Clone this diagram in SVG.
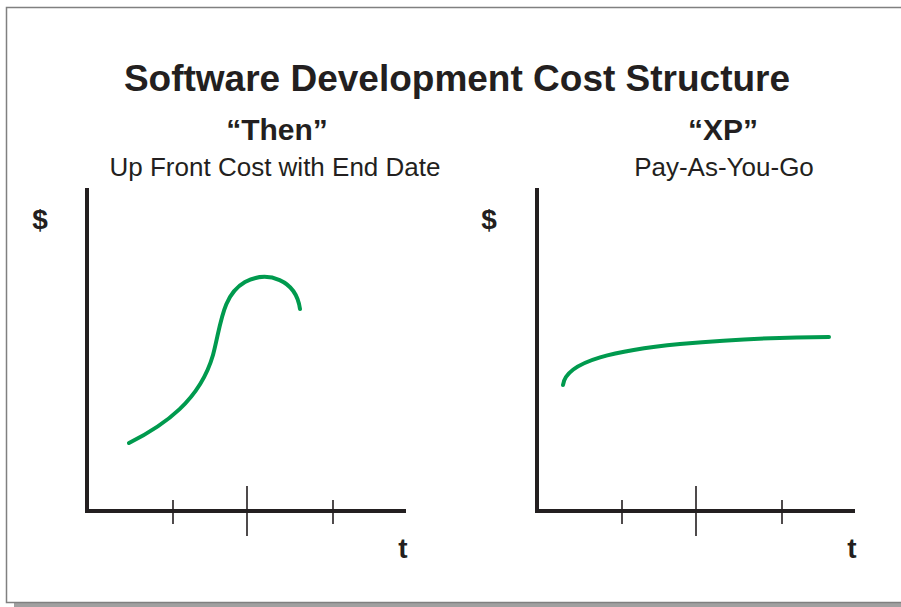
<svg xmlns="http://www.w3.org/2000/svg" width="901" height="607" viewBox="0 0 901 607">
<style>
.t{font-family:"Liberation Sans",Arial,sans-serif;fill:#231f20;text-anchor:middle}
.b{font-weight:bold}
.ax{stroke:#231f20;stroke-width:4;fill:none}
.tk{stroke:#231f20;stroke-width:1.6}
.cv{stroke:#009a4e;stroke-width:4;fill:none;stroke-linecap:round}
</style>
<rect x="14" y="603" width="887" height="4" fill="#a0a0a0"/>
<rect x="6.5" y="7.5" width="900" height="595" fill="#fff" stroke="#808080" stroke-width="1.5"/>
<text class="t b" x="457" y="91" font-size="37">Software Development Cost Structure</text>
<g id="then">
<text class="t b" x="277" y="140" font-size="30">“Then”</text>
<text class="t" x="275" y="176" font-size="26">Up Front Cost with End Date</text>
<text class="t b" x="40" y="229" font-size="28">$</text>
<text class="t b" x="403" y="558" font-size="28">t</text>
<path class="ax" d="M87 188 V511 H406"/>
<path class="tk" d="M173 500 V524 M247 486 V536 M333 500 V524"/>
<path class="cv" d="M129 443 C165 425 200 400 213 355 C221 325 222 295 245 282 C268 270 296 280 300 309"/>
</g>
<g id="xp">
<text class="t b" x="723" y="140" font-size="30">“XP”</text>
<text class="t" x="724" y="176" font-size="26">Pay-As-You-Go</text>
<text class="t b" x="489" y="229" font-size="28">$</text>
<text class="t b" x="852" y="558" font-size="28">t</text>
<path class="ax" d="M537 188 V511 H855"/>
<path class="tk" d="M622 500 V524 M696 486 V536 M782 500 V524"/>
<path class="cv" d="M563 385 C566 360 620 350 680 344 C740 339 790 337 829 337"/>
</g>
</svg>
